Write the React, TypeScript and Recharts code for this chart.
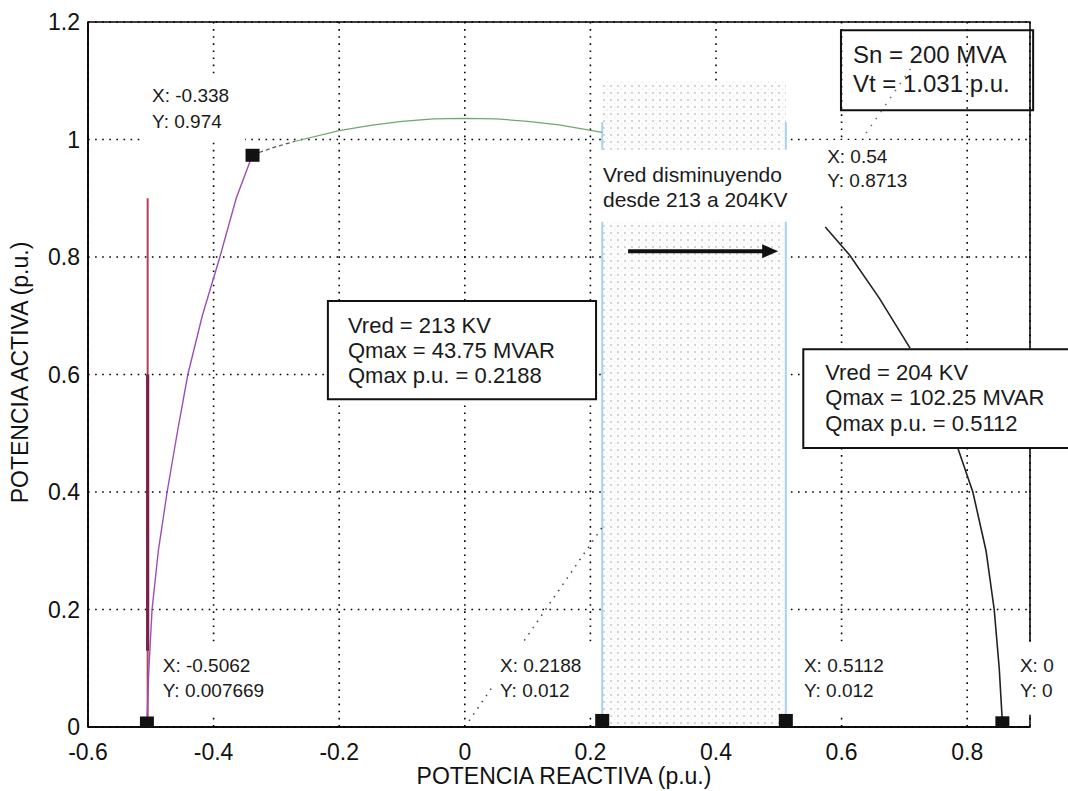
import React from 'react';
import {
  ComposedChart, Line, Scatter, XAxis, YAxis, CartesianGrid,
  ReferenceArea, ReferenceLine, ReferenceDot,
} from 'recharts';

// axis ticks
const xTicks = [-0.6, -0.4, -0.2, 0, 0.2, 0.4, 0.6, 0.8];
const yTicks = [0, 0.2, 0.4, 0.6, 0.8, 1, 1.2];

// Vred = 213 KV side (left)
const redLine = [{ x: -0.505, y: 0.008 }, { x: -0.505, y: 0.9 }];
const redThick = [{ x: -0.505, y: 0.13 }, { x: -0.505, y: 0.6 }];
const purpleCurve = [
  { x: -0.5062, y: 0.0077 }, { x: -0.503, y: 0.1 }, { x: -0.498, y: 0.2 },
  { x: -0.488, y: 0.3 }, { x: -0.474, y: 0.4 }, { x: -0.458, y: 0.5 },
  { x: -0.441, y: 0.6 }, { x: -0.418, y: 0.7 }, { x: -0.39, y: 0.8 },
  { x: -0.364, y: 0.9 }, { x: -0.338, y: 0.974 },
];

// stator limit arc on top
const arcDark = [{ x: -0.338, y: 0.974 }, { x: -0.3, y: 0.988 }, { x: -0.27, y: 0.997 }];
const arcGreen = [
  { x: -0.27, y: 0.997 }, { x: -0.2, y: 1.015 }, { x: -0.15, y: 1.024 },
  { x: -0.1, y: 1.031 }, { x: -0.05, y: 1.035 }, { x: 0, y: 1.036 },
  { x: 0.05, y: 1.035 }, { x: 0.1, y: 1.031 }, { x: 0.15, y: 1.025 },
  { x: 0.2188, y: 1.012 },
];

// Vred = 204 KV side (right), split where the text box hides it
const blackUpper = [
  { x: 0.574, y: 0.851 }, { x: 0.613, y: 0.803 }, { x: 0.66, y: 0.73 },
  { x: 0.709, y: 0.645 },
];
const blackLower = [
  { x: 0.785, y: 0.475 }, { x: 0.809, y: 0.4 }, { x: 0.83, y: 0.3 },
  { x: 0.843, y: 0.2 }, { x: 0.851, y: 0.1 }, { x: 0.856, y: 0.008 },
];

const diagonal = [{ x: 0, y: 0 }, { x: 0.2188, y: 0.34 }];

const markers = [
  { x: -0.5062, y: 0.0077 },
  { x: -0.338, y: 0.974 },
  { x: 0.2188, y: 0.012 },
  { x: 0.5112, y: 0.012 },
  { x: 0.856, y: 0.008 },
];

const qmaxLow = 0.2188;
const qmaxHigh = 0.5112;

const font = '"Liberation Sans", Arial, sans-serif';

function textNote(key: string, x: number, y: number, lines: string[], size: number, gap: number, bg?: number[]) {
  return (
    <ReferenceDot
      key={key}
      x={x}
      y={y}
      r={0}
      ifOverflow="visible"
      shape={(p: any) => (
        <g>
          {bg && <rect x={p.cx + bg[0]} y={p.cy + bg[1]} width={bg[2]} height={bg[3]} fill="#fff" />}
          {lines.map((l, i) => (
            <text key={i} x={p.cx} y={p.cy + i * gap} fontSize={size} fill="#1a1a1a" fontFamily={font}>
              {l}
            </text>
          ))}
        </g>
      )}
    />
  );
}

export default function App() {
  return (
    <div style={{ position: 'absolute', left: 0, top: 0, width: 1068, height: 791, background: '#fff', fontFamily: font }}>
      <ComposedChart width={1068} height={791} margin={{ top: 22, right: 38, bottom: 34, left: 28 }}>
        <defs>
          <pattern id="stipple" width="7" height="7" patternUnits="userSpaceOnUse">
            <rect width="7" height="7" fill="#fcfcfc" />
            <circle cx="2" cy="2" r="0.9" fill="#c2c2c2" />
            <circle cx="5.5" cy="5" r="0.6" fill="#dcdcdc" />
          </pattern>
        </defs>
        <CartesianGrid stroke="#000" strokeDasharray="1.6 5.5" strokeWidth={1.6} />
        <XAxis
          type="number"
          dataKey="x"
          domain={[-0.6, 0.9]}
          ticks={xTicks}
          allowDataOverflow
          height={30}
          tickLine={false}
          tickSize={14}
          tickMargin={3}
          axisLine={{ stroke: '#000', strokeWidth: 1.5 }}
          tick={{ fill: '#111', fontSize: 23, fontFamily: font }}
          label={{
            content: (p: any) => (
              <text
                x={p.viewBox.x + p.viewBox.width / 2 + 5}
                y={p.viewBox.y + 57}
                textAnchor="middle"
                fontSize={23}
                fill="#111"
                fontFamily={font}
              >
                POTENCIA REACTIVA (p.u.)
              </text>
            ),
          }}
        />
        <YAxis
          type="number"
          domain={[0, 1.2]}
          ticks={yTicks}
          allowDataOverflow
          width={60}
          tickLine={false}
          tickSize={8}
          tickMargin={0}
          axisLine={{ stroke: '#000', strokeWidth: 1.5 }}
          tick={{ fill: '#111', fontSize: 23, fontFamily: font }}
          label={{
            content: (p: any) => {
              const cx = p.viewBox.x;
              const cy = p.viewBox.y + p.viewBox.height / 2 - 2;
              return (
                <text
                  x={cx}
                  y={cy}
                  transform={`rotate(-90 ${cx} ${cy})`}
                  textAnchor="middle"
                  fontSize={23}
                  fill="#111"
                  fontFamily={font}
                >
                  POTENCIA ACTIVA (p.u.)
                </text>
              );
            },
          }}
        />

        {/* shaded band between the two Qmax values */}
        <ReferenceArea x1={qmaxLow} x2={qmaxHigh} y1={0} y2={1.1} fill="url(#stipple)" fillOpacity={1} stroke="none" />
        <ReferenceLine segment={[{ x: qmaxLow, y: 0 }, { x: qmaxLow, y: 1.03 }]} stroke="#a9d3ec" strokeWidth={2} />
        <ReferenceLine segment={[{ x: qmaxHigh, y: 0 }, { x: qmaxHigh, y: 1.03 }]} stroke="#a9d3ec" strokeWidth={2} />

        {/* frame */}
        <ReferenceArea x1={-0.6} x2={0.9} y1={0} y2={1.2} fill="none" stroke="#000" strokeWidth={1.5} />

        <Line data={diagonal} dataKey="y" stroke="#444" strokeWidth={1.5} strokeDasharray="1.5 6" dot={false} isAnimationActive={false} />
        <Line data={redLine} dataKey="y" stroke="#b3405a" strokeWidth={2} dot={false} isAnimationActive={false} />
        <Line data={redThick} dataKey="y" stroke="#7c2146" strokeWidth={3.2} dot={false} isAnimationActive={false} />
        <Line data={purpleCurve} dataKey="y" stroke="#9a4fb4" strokeWidth={1.4} dot={false} isAnimationActive={false} />
        <Line data={arcDark} dataKey="y" stroke="#555" strokeWidth={1.2} strokeDasharray="4 3" dot={false} isAnimationActive={false} />
        <Line data={arcGreen} dataKey="y" stroke="#6fa86f" strokeWidth={1.2} dot={false} isAnimationActive={false} />
        <Line data={blackUpper} dataKey="y" stroke="#222" strokeWidth={1.6} dot={false} isAnimationActive={false} />
        <Line data={blackLower} dataKey="y" stroke="#222" strokeWidth={1.6} dot={false} isAnimationActive={false} />

        <ReferenceLine
          segment={[{ x: 0.639, y: 1.011 }, { x: 0.725, y: 1.144 }]}
          stroke="#666"
          strokeWidth={1.5}
          strokeDasharray="1.5 7"
          ifOverflow="visible"
        />

        {/* arrow */}
        <ReferenceLine
          segment={[{ x: 0.26, y: 0.81 }, { x: 0.499, y: 0.81 }]}
          ifOverflow="visible"
          shape={(p: any) => (
            <g>
              <line x1={p.x1} y1={p.y1} x2={p.x2 - 12} y2={p.y2} stroke="#111" strokeWidth={4} />
              <polygon points={`${p.x2},${p.y2} ${p.x2 - 16},${p.y2 - 7} ${p.x2 - 16},${p.y2 + 7}`} fill="#111" />
            </g>
          )}
        />

        {/* text boxes */}
        <ReferenceArea x1={-0.218} x2={0.209} y1={0.558} y2={0.725} fill="#fff" fillOpacity={1} stroke="#111" strokeWidth={2} ifOverflow="visible" />
        <ReferenceArea x1={0.539} x2={1.0} y1={0.475} y2={0.643} fill="#fff" fillOpacity={1} stroke="#111" strokeWidth={2} ifOverflow="visible" />
        <ReferenceArea x1={0.599} x2={0.905} y1={1.05} y2={1.186} fill="none" stroke="#111" strokeWidth={2} ifOverflow="visible" />

        <Scatter
          data={markers}
          dataKey="y"
          isAnimationActive={false}
          shape={(p: any) => <rect x={p.cx - 7} y={p.cy - 6} width={14} height={13} fill="#111" />}
        />

        {textNote('a', -0.498, 1.064, ['X: -0.338', 'Y: 0.974'], 19, 26, [-12, -27, 105, 67])}
        {textNote('b', -0.481, 0.094, ['X: -0.5062', 'Y: 0.007669'], 19, 25, [-5, -30, 122, 73])}
        {textNote('c', 0.056, 0.094, ['X: 0.2188', 'Y: 0.012'], 19, 25, [-8, -30, 100, 73])}
        {textNote('d', 0.54, 0.094, ['X: 0.5112', 'Y: 0.012'], 19, 25, [-6, -30, 102, 73])}
        {textNote('e', 0.884, 0.094, ['X: 0', 'Y: 0'], 19, 25, [-6, -30, 60, 73])}
        {textNote('f', 0.577, 0.96, ['X: 0.54', 'Y: 0.8713'], 19, 24, [-17, -23, 115, 65])}
        {textNote('g', 0.22, 0.928, ['Vred disminuyendo', 'desde 213 a 204KV'], 21, 25, [-5, -32, 202, 72])}
        {textNote('h', 0.618, 1.13, ['Sn = 200 MVA', 'Vt = 1.031 p.u.'], 24, 29)}
        {textNote('i', -0.186, 0.671, ['Vred = 213 KV', 'Qmax = 43.75 MVAR', 'Qmax p.u. = 0.2188'], 22, 25)}
        {textNote('j', 0.574, 0.591, ['Vred = 204 KV', 'Qmax = 102.25 MVAR', 'Qmax p.u. = 0.5112'], 22, 25.5)}
      </ComposedChart>
    </div>
  );
}
